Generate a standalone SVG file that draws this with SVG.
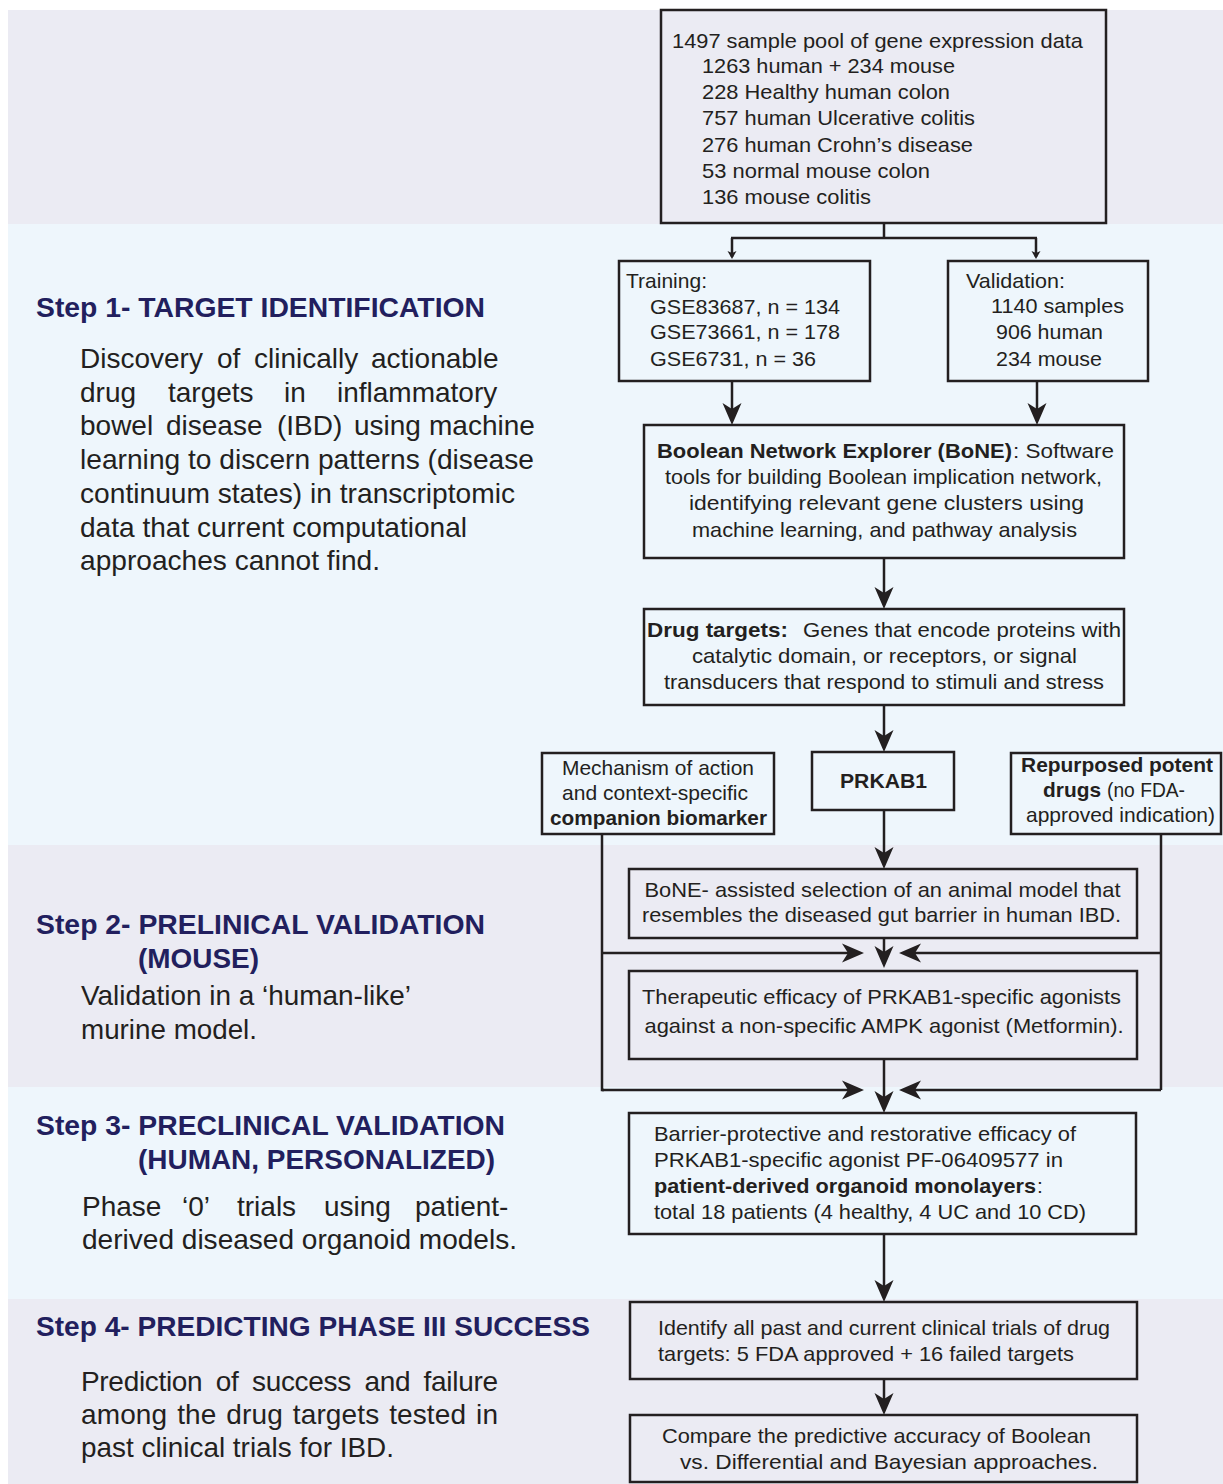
<svg xmlns="http://www.w3.org/2000/svg" width="1223" height="1484" viewBox="0 0 1223 1484">
<style>
.bg1{fill:#ebebf3}
.bg2{fill:#eef6fc}
.box{fill:none;stroke:#231f20;stroke-width:2.5}
.ln{fill:none;stroke:#231f20;stroke-width:2.5}
.t{font-family:"Liberation Sans",Arial,sans-serif;font-size:21px;fill:#231f20}
.b{font-weight:bold}
.title{font-family:"Liberation Sans",Arial,sans-serif;font-size:28px;font-weight:bold;fill:#221f5e}
.p{font-family:"Liberation Sans",Arial,sans-serif;font-size:28px;fill:#231f20}
</style>
<defs>
<marker id="ah" viewBox="-18 -11 26 22" refX="0" refY="0" markerWidth="26" markerHeight="22" markerUnits="userSpaceOnUse" orient="auto">
<path d="M6,0 L-16,-9.5 L-10,0 L-16,9.5 Z" fill="#231f20"/>
</marker>
<marker id="ahs" viewBox="-8 -6 12 12" refX="0" refY="0" markerWidth="12" markerHeight="12" markerUnits="userSpaceOnUse" orient="auto">
<path d="M2,0 L-6,-4.5 L-4,0 L-6,4.5 Z" fill="#231f20"/>
</marker>
</defs>
<rect width="1223" height="1484" fill="#ffffff"/>
<g id="bands">
<rect class="bg1" x="8" y="10" width="1215" height="214"/>
<rect class="bg2" x="8" y="224" width="1215" height="621"/>
<rect class="bg1" x="8" y="845" width="1215" height="242"/>
<rect class="bg2" x="8" y="1087" width="1215" height="212"/>
<rect class="bg1" x="8" y="1299" width="1215" height="185"/>
</g>
<g id="step1-label">
<text class="title" x="36" y="317" textLength="449" lengthAdjust="spacingAndGlyphs">Step 1- TARGET IDENTIFICATION</text>
<text class="p" y="368"><tspan x="80">Discovery</tspan><tspan x="217">of</tspan><tspan x="254">clinically</tspan><tspan x="371">actionable</tspan></text>
<text class="p" y="402"><tspan x="80">drug</tspan><tspan x="168">targets</tspan><tspan x="284">in</tspan><tspan x="337">inflammatory</tspan></text>
<text class="p" y="435"><tspan x="80">bowel</tspan><tspan x="166">disease</tspan><tspan x="277">(IBD)</tspan><tspan x="354">using</tspan><tspan x="429">machine</tspan></text>
<text class="p" x="80" y="469" textLength="454" lengthAdjust="spacingAndGlyphs">learning to discern patterns (disease</text>
<text class="p" x="80" y="503" textLength="435" lengthAdjust="spacingAndGlyphs">continuum states) in transcriptomic</text>
<text class="p" x="80" y="537" textLength="387" lengthAdjust="spacingAndGlyphs">data that current computational</text>
<text class="p" x="80" y="570" textLength="300" lengthAdjust="spacingAndGlyphs">approaches cannot find.</text>
</g>
<g id="step2-label">
<text class="title" x="36" y="934" textLength="449" lengthAdjust="spacingAndGlyphs">Step 2- PRELINICAL VALIDATION</text>
<text class="title" x="138" y="968" textLength="121" lengthAdjust="spacingAndGlyphs">(MOUSE)</text>
<text class="p" x="81" y="1005" textLength="330" lengthAdjust="spacingAndGlyphs">Validation in a ‘human-like’</text>
<text class="p" x="81" y="1039" textLength="176" lengthAdjust="spacingAndGlyphs">murine model.</text>
</g>
<g id="step3-label">
<text class="title" x="36" y="1135" textLength="469" lengthAdjust="spacingAndGlyphs">Step 3- PRECLINICAL VALIDATION</text>
<text class="title" x="138" y="1169" textLength="357" lengthAdjust="spacingAndGlyphs">(HUMAN, PERSONALIZED)</text>
<text class="p" y="1216"><tspan x="82">Phase</tspan><tspan x="182">‘0’</tspan><tspan x="237">trials</tspan><tspan x="324">using</tspan><tspan x="415">patient-</tspan></text>
<text class="p" x="82" y="1249" textLength="435" lengthAdjust="spacingAndGlyphs">derived diseased organoid models.</text>
</g>
<g id="step4-label">
<text class="title" x="36" y="1336" textLength="554" lengthAdjust="spacingAndGlyphs">Step 4- PREDICTING PHASE III SUCCESS</text>
<text class="p" x="81" y="1391" textLength="417" lengthAdjust="spacing" style="word-spacing:6px">Prediction of success and failure</text>
<text class="p" x="81" y="1424" textLength="417" lengthAdjust="spacing" style="word-spacing:2px">among the drug targets tested in</text>
<text class="p" x="81" y="1457" textLength="313" lengthAdjust="spacingAndGlyphs">past clinical trials for IBD.</text>
</g>
<g id="node-pool">
<rect class="box" x="661" y="10" width="445" height="213"/>
<text class="t" x="672" y="48" textLength="411" lengthAdjust="spacingAndGlyphs">1497 sample pool of gene expression data</text>
<text class="t" x="702" y="73" textLength="253" lengthAdjust="spacingAndGlyphs">1263 human + 234 mouse</text>
<text class="t" x="702" y="99" textLength="248" lengthAdjust="spacingAndGlyphs">228 Healthy human colon</text>
<text class="t" x="702" y="125" textLength="273" lengthAdjust="spacingAndGlyphs">757 human Ulcerative colitis</text>
<text class="t" x="702" y="152" textLength="271" lengthAdjust="spacingAndGlyphs">276 human Crohn’s disease</text>
<text class="t" x="702" y="178" textLength="228" lengthAdjust="spacingAndGlyphs">53 normal mouse colon</text>
<text class="t" x="702" y="204" textLength="169" lengthAdjust="spacingAndGlyphs">136 mouse colitis</text>
</g>
<g id="node-training">
<rect class="box" x="619" y="261" width="251" height="120"/>
<text class="t" x="626" y="288" textLength="81" lengthAdjust="spacingAndGlyphs">Training:</text>
<text class="t" x="650" y="314" textLength="190" lengthAdjust="spacingAndGlyphs">GSE83687, n = 134</text>
<text class="t" x="650" y="339" textLength="190" lengthAdjust="spacingAndGlyphs">GSE73661, n = 178</text>
<text class="t" x="650" y="366" textLength="166" lengthAdjust="spacingAndGlyphs">GSE6731, n = 36</text>
</g>
<g id="node-validation">
<rect class="box" x="948" y="261" width="200" height="120"/>
<text class="t" x="966" y="288" textLength="99" lengthAdjust="spacingAndGlyphs">Validation:</text>
<text class="t" x="991" y="313" textLength="133" lengthAdjust="spacingAndGlyphs">1140 samples</text>
<text class="t" x="996" y="339" textLength="107" lengthAdjust="spacingAndGlyphs">906 human</text>
<text class="t" x="996" y="366" textLength="106" lengthAdjust="spacingAndGlyphs">234 mouse</text>
</g>
<g id="node-bone">
<rect class="box" x="644" y="425" width="480" height="133"/>
<text class="t b" x="657" y="458" textLength="355" lengthAdjust="spacingAndGlyphs">Boolean Network Explorer (BoNE)</text>
<text class="t" x="1013" y="458" textLength="101" lengthAdjust="spacingAndGlyphs">: Software</text>
<text class="t" x="665" y="484" textLength="437" lengthAdjust="spacingAndGlyphs">tools for building Boolean implication network,</text>
<text class="t" x="689" y="510" textLength="395" lengthAdjust="spacingAndGlyphs">identifying relevant gene clusters using</text>
<text class="t" x="692" y="537" textLength="385" lengthAdjust="spacingAndGlyphs">machine learning, and pathway analysis</text>
</g>
<g id="node-drug-targets">
<rect class="box" x="644" y="609" width="480" height="96"/>
<text class="t b" x="647" y="637" textLength="141" lengthAdjust="spacingAndGlyphs">Drug targets:</text>
<text class="t" x="803" y="637" textLength="318" lengthAdjust="spacingAndGlyphs">Genes that encode proteins with</text>
<text class="t" x="692" y="663" textLength="385" lengthAdjust="spacingAndGlyphs">catalytic domain, or receptors, or signal</text>
<text class="t" x="664" y="689" textLength="440" lengthAdjust="spacingAndGlyphs">transducers that respond to stimuli and stress</text>
</g>
<g id="node-prkab1">
<rect class="box" x="812" y="752" width="142" height="58"/>
<text class="t b" x="840" y="788" textLength="87" lengthAdjust="spacingAndGlyphs">PRKAB1</text>
</g>
<g id="node-mechanism">
<rect class="box" x="542" y="753" width="232" height="81"/>
<text class="t" x="562" y="775" textLength="192" lengthAdjust="spacingAndGlyphs">Mechanism of action</text>
<text class="t" x="562" y="800" textLength="186" lengthAdjust="spacingAndGlyphs">and context-specific</text>
<text class="t b" x="550" y="825" textLength="217" lengthAdjust="spacingAndGlyphs">companion biomarker</text>
</g>
<g id="node-repurposed">
<rect class="box" x="1011" y="753" width="210" height="81"/>
<text class="t b" x="1021" y="772" textLength="192" lengthAdjust="spacingAndGlyphs">Repurposed potent</text>
<text class="t b" x="1043" y="797" textLength="58" lengthAdjust="spacingAndGlyphs">drugs</text>
<text class="t" x="1107" y="797" textLength="78" lengthAdjust="spacingAndGlyphs">(no FDA-</text>
<text class="t" x="1026" y="822" textLength="189" lengthAdjust="spacingAndGlyphs">approved indication)</text>
</g>
<g id="node-animal-model">
<rect class="box" x="629" y="869" width="508" height="69"/>
<text class="t" x="644.5" y="897" textLength="476" lengthAdjust="spacingAndGlyphs">BoNE- assisted selection of an animal model that</text>
<text class="t" x="642" y="922" textLength="479" lengthAdjust="spacingAndGlyphs">resembles the diseased gut barrier in human IBD.</text>
</g>
<g id="node-therapeutic">
<rect class="box" x="629" y="971" width="508" height="88"/>
<text class="t" x="642" y="1004" textLength="479" lengthAdjust="spacingAndGlyphs">Therapeutic efficacy of PRKAB1-specific agonists</text>
<text class="t" x="644.5" y="1033" textLength="479" lengthAdjust="spacingAndGlyphs">against a non-specific AMPK agonist (Metformin).</text>
</g>
<g id="node-barrier">
<rect class="box" x="629" y="1113" width="507" height="121"/>
<text class="t" x="654" y="1141" textLength="422" lengthAdjust="spacingAndGlyphs">Barrier-protective and restorative efficacy of</text>
<text class="t" x="654" y="1167" textLength="409" lengthAdjust="spacingAndGlyphs">PRKAB1-specific agonist PF-06409577 in</text>
<text class="t b" x="654" y="1193" textLength="382" lengthAdjust="spacingAndGlyphs">patient-derived organoid monolayers</text>
<text class="t" x="1037" y="1193">:</text>
<text class="t" x="654" y="1219" textLength="432" lengthAdjust="spacingAndGlyphs">total 18 patients (4 healthy, 4 UC and 10 CD)</text>
</g>
<g id="node-identify">
<rect class="box" x="630" y="1302" width="507" height="77"/>
<text class="t" x="658" y="1335" textLength="452" lengthAdjust="spacingAndGlyphs">Identify all past and current clinical trials of drug</text>
<text class="t" x="658" y="1361" textLength="416" lengthAdjust="spacingAndGlyphs">targets: 5 FDA approved + 16 failed targets</text>
</g>
<g id="node-compare">
<rect class="box" x="630" y="1415" width="507" height="67"/>
<text class="t" x="662" y="1443" textLength="429" lengthAdjust="spacingAndGlyphs">Compare the predictive accuracy of Boolean</text>
<text class="t" x="680" y="1469" textLength="418" lengthAdjust="spacingAndGlyphs">vs. Differential and Bayesian approaches.</text>
</g>
<g id="connectors">
<path class="ln" d="M884,223 V238 M731,238 H1037"/>
<path class="ln" d="M732,238 V257" marker-end="url(#ahs)"/>
<path class="ln" d="M1036,238 V257" marker-end="url(#ahs)"/>
<path class="ln" d="M732,381 V419" marker-end="url(#ah)"/>
<path class="ln" d="M1037,381 V419" marker-end="url(#ah)"/>
<path class="ln" d="M884,558 V603" marker-end="url(#ah)"/>
<path class="ln" d="M884,705 V746" marker-end="url(#ah)"/>
<path class="ln" d="M884,810 V863" marker-end="url(#ah)"/>
<path class="ln" d="M884,938 V962" marker-end="url(#ah)"/>
<path class="ln" d="M602,834 V1090 H604"/>
<path class="ln" d="M602,953 H858" marker-end="url(#ah)"/>
<path class="ln" d="M602,1090 H858" marker-end="url(#ah)"/>
<path class="ln" d="M1161,834 V1090"/>
<path class="ln" d="M1161,953 H905" marker-end="url(#ah)"/>
<path class="ln" d="M1161,1090 H905" marker-end="url(#ah)"/>
<path class="ln" d="M884,1059 V1107" marker-end="url(#ah)"/>
<path class="ln" d="M884,1234 V1296" marker-end="url(#ah)"/>
<path class="ln" d="M884,1379 V1409" marker-end="url(#ah)"/>
</g>
</svg>
